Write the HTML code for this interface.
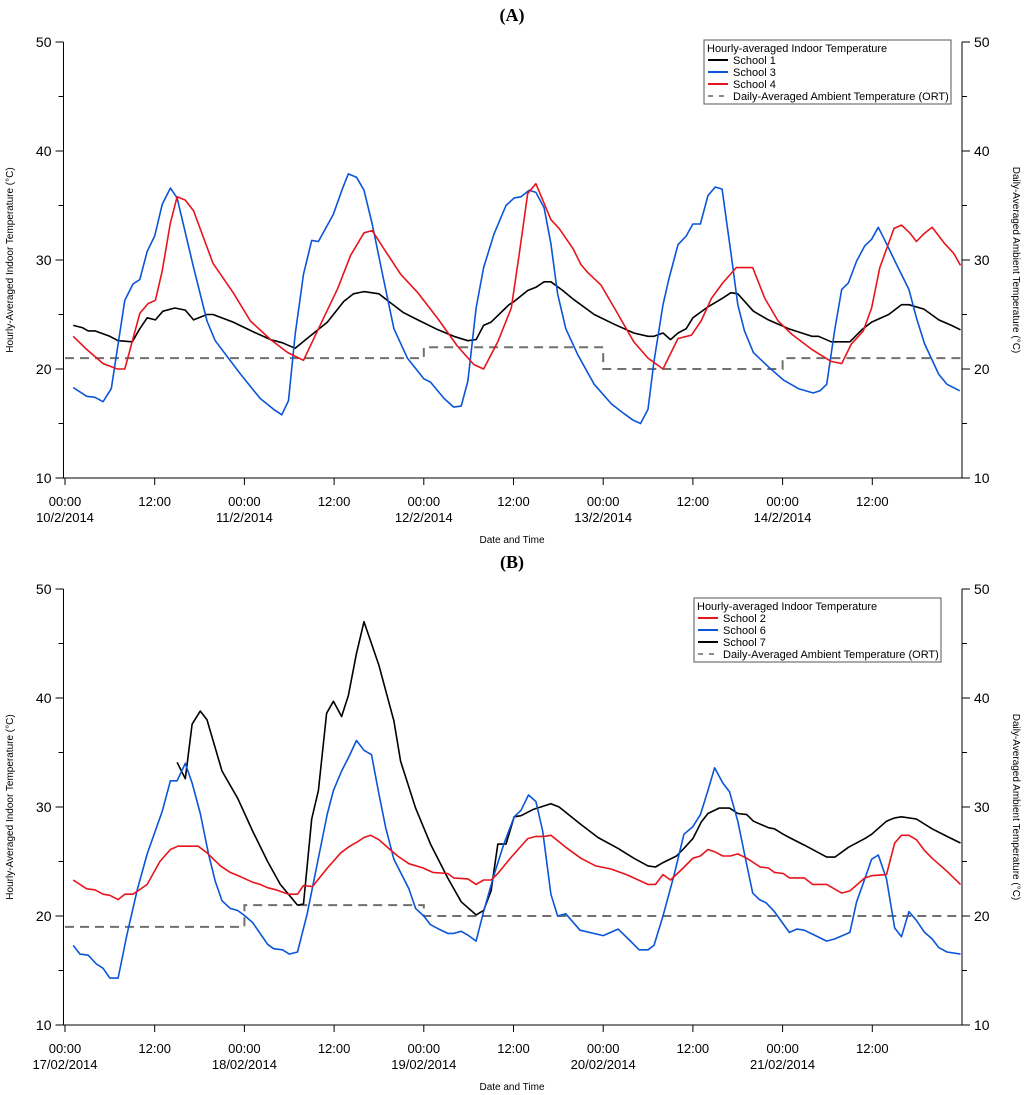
<!DOCTYPE html>
<html><head><meta charset="utf-8"><style>
html,body{margin:0;padding:0;background:#fff;}
svg{display:block;font-family:"Liberation Sans",Arial,sans-serif;}
</style></head><body>
<svg id="chart" width="1024" height="1095" viewBox="0 0 1024 1095" xmlns="http://www.w3.org/2000/svg"></svg>
<script>
// ---------- Panel A data ----------
const dayLabelsA = ["10/2/2014","11/2/2014","12/2/2014","13/2/2014","14/2/2014"];
const ortA = [21,21,22,20,21];
const s1HoursA = [1.1,2.3,3.1,4,6,7.1,9,10,11,12.1,13.1,14.7,16.1,17.2,19,19.8,22.5,25.2,27.5,29.1,30.8,32.2,35.1,37.3,38.6,40,42,43.3,45.2,47.2,49.9,52,53.9,55,56,57,59.4,60.1,61.9,63,64.1,65,66.6,68,70.8,73.5,76.1,78,78.8,80,81,82,83.1,84,86,88,89.1,90,92.1,94.1,96.8,99.9,100.8,102.5,105,106.6,107.9,110.2,111.9,112.9,114.9,116.9,118.6,119.8];
const s1TempsA = [24,23.8,23.5,23.5,23,22.6,22.5,23.7,24.7,24.5,25.3,25.6,25.4,24.5,25,25,24.3,23.4,22.7,22.4,21.9,22.7,24.3,26.2,26.9,27.1,26.9,26.2,25.2,24.5,23.6,23,22.6,22.7,24,24.3,25.9,26.2,27.2,27.5,28,28,27.2,26.4,25,24.1,23.3,23,23,23.3,22.7,23.3,23.7,24.7,25.7,26.5,27,26.9,25.3,24.5,23.7,23,23,22.5,22.5,23.6,24.3,25,25.9,25.9,25.5,24.5,24,23.6];
const s3HoursA = [1.1,2.9,4,5.1,6.2,8,9.1,10,11,12,13,14.1,15,17.2,19,20.1,23.5,26.1,27.9,29,29.9,30.8,31.9,33,33.9,35.9,37.1,37.9,39,40,41.1,42.6,44,45.8,48,48.9,50.7,52,53,53.9,55,56,57.4,59,60.1,61,62.1,63,64.1,65,65.9,67,68.6,70.8,73.1,74.8,76,77,78,78.8,80,80.8,82,83.1,84,85,86,87,87.9,89.1,90,90.9,92.1,94.1,96.1,98.1,100.1,101,101.9,103,103.9,104.8,105.9,107,107.9,108.8,109.9,111.3,112.9,113.9,115,116.9,118,119.7];
const s3TempsA = [18.3,17.5,17.4,17,18.2,26.3,27.8,28.2,30.8,32.2,35.1,36.6,35.7,29.3,24.4,22.6,19.5,17.3,16.3,15.8,17.1,23.2,28.7,31.8,31.7,34.2,36.5,37.9,37.6,36.4,33.3,28.3,23.7,21,19.1,18.8,17.3,16.5,16.6,18.9,25.6,29.3,32.4,35,35.7,35.8,36.4,36.2,34.8,31.5,26.9,23.7,21.3,18.6,16.8,15.9,15.3,15,16.3,20.7,25.9,28.3,31.4,32.2,33.3,33.3,35.9,36.7,36.5,30.6,25.9,23.5,21.5,20.2,19,18.2,17.8,18,18.6,23.7,27.3,27.9,29.9,31.3,31.9,33,31.5,29.5,27.3,24.7,22.3,19.5,18.6,18];
const s4HoursA = [1.1,2.9,5.1,7,8,10,11.1,12.1,13,14.1,15,16.1,17.2,19.8,22.5,24.8,27.5,29.8,31.9,34.2,36.5,38.2,40,41.1,42.6,44.9,47.2,49.9,52.5,54.7,56,57.9,59.7,60.7,61.9,63,64.1,65,66.1,68,69,70,71.7,73.5,76.1,78,80,82,83.8,85.1,86.5,88,89.8,92,93.6,95.4,97.2,99.9,102.5,103.9,105.2,106.8,107.9,109,110.9,111.9,113,113.9,114.9,116,117.7,118.9,119.8];
const s4TempsA = [23,21.8,20.5,20,20,25.1,26,26.3,29,33.4,35.8,35.5,34.5,29.7,27,24.4,22.7,21.5,20.8,24.1,27.4,30.4,32.5,32.7,31.1,28.7,27,24.6,22.1,20.4,20,22.5,25.6,30.2,36.1,37,35.2,33.7,32.9,31,29.6,28.8,27.7,25.6,22.5,21,20,22.8,23.1,24.4,26.5,27.9,29.3,29.3,26.5,24.4,23.2,21.8,20.7,20.5,22.3,23.5,25.6,29.3,32.9,33.2,32.5,31.7,32.4,33,31.5,30.6,29.5];
// ---------- Panel B data ----------
const dayLabelsB = ["17/02/2014","18/02/2014","19/02/2014","20/02/2014","21/02/2014"];
const ortB = [19,21,20,20,20];
const s2HoursB = [1.1,2.9,4,5.1,6,7.1,8,9.1,11,12.7,14.1,15.1,17.8,19,20.8,22.1,23.5,25.1,26.1,27.1,28.2,29.9,31.1,31.9,33.1,35.1,36.9,38.1,39.1,40,40.9,42,43.3,44.5,46,47.9,49.2,51.2,52,53.9,55,56,57,57.9,59.7,61.9,63,64.1,65,67,69,71,73.1,75.1,76.1,78,79,80,81,82.7,84,85,86,86.9,88,89,90,91.2,93,94.1,94.9,96.1,96.9,98.9,100,101.9,103.9,105,107,107.9,109.9,111,111.9,112.9,113.9,115,116,118,119.8];
const s2TempsB = [23.3,22.5,22.4,22,21.9,21.5,22,22,22.9,25,26.1,26.4,26.4,25.8,24.6,24,23.6,23.1,22.9,22.6,22.4,22,22,22.8,22.7,24.4,25.8,26.4,26.8,27.2,27.4,27,26.2,25.5,24.8,24.4,24,23.9,23.5,23.4,22.9,23.3,23.3,23.9,25.4,27.1,27.3,27.3,27.4,26.3,25.3,24.6,24.3,23.8,23.5,22.9,22.9,23.8,23.3,24.4,25.3,25.5,26.1,25.9,25.5,25.5,25.7,25.3,24.5,24.4,24,23.9,23.5,23.5,22.9,22.9,22.1,22.3,23.5,23.7,23.8,26.7,27.4,27.4,27,26,25.3,24.1,22.9];
const s6HoursB = [1.1,2,3.1,4.2,5.1,6,7.1,8.3,9.7,11,13,14.1,15,16.1,17,18.1,19.2,20.1,21,22.1,23.1,23.9,25.1,27.1,27.9,29.1,30,31.1,32.4,33.8,35.1,35.9,37,37.9,39,40,41,42,42.9,44,46,46.9,48,48.9,50,51.2,52,53,54,55,56,57.4,58.7,60.1,61,62,63,63.9,65,65.9,67,68.9,72,74,75.5,76.8,78,78.8,80,81.5,82.8,84,85,86,86.9,88,88.9,90,90.9,92,92.9,93.8,94.9,96.9,97.9,98.9,100.1,101.9,103,105,105.9,107,107.9,108.8,109.9,111,111.9,112.9,113.9,115,116,116.9,118,119.8];
const s6TempsB = [17.3,16.5,16.4,15.6,15.2,14.3,14.3,18.3,22.5,25.7,29.6,32.4,32.4,34,32.2,29.4,25.7,23.2,21.4,20.7,20.5,20.1,19.4,17.4,17,16.9,16.5,16.7,20.2,25,29.4,31.5,33.3,34.5,36.1,35.2,34.8,31.2,28.1,25.2,22.5,20.7,20,19.2,18.8,18.4,18.4,18.6,18.2,17.7,20.4,23.8,26.6,29.1,29.7,31.1,30.5,27.8,22,20,20.2,18.7,18.2,18.8,17.8,16.9,16.9,17.3,20,23.8,27.5,28.2,29.3,31.5,33.6,32.2,31.4,28.7,25.7,22.1,21.5,21.2,20.4,18.5,18.8,18.7,18.3,17.7,17.9,18.5,21.3,23.4,25.2,25.6,23.4,18.9,18.1,20.4,19.6,18.5,17.9,17.1,16.7,16.5];
const s7HoursB = [15,16.1,17,18.1,19,21,23.1,25.1,27.1,28.8,31.1,31.9,33,33.9,35,35.9,37,37.9,39,40,42,44,44.9,46.9,48.9,51.2,53,55,56,57,57.9,59,60.1,61,62.7,65,66.1,69,71.3,74,76.1,78,79,80,81.8,82.8,84,85.1,86,87.5,88.9,90,91.2,92.1,94.1,94.9,96.1,96.9,98.9,101.9,103,104.8,107,107.9,109.9,111,111.9,113.9,116,118,119.8];
const s7TempsB = [34.1,32.6,37.6,38.8,38,33.3,30.8,27.8,25,22.9,21,21.1,28.9,31.5,38.6,39.7,38.3,40.2,44.1,47,43,37.9,34.2,29.9,26.6,23.5,21.3,20.1,20.5,22.3,26.6,26.6,29.1,29.2,29.8,30.3,30,28.4,27.2,26.2,25.3,24.6,24.5,24.9,25.5,26.2,27.1,28.6,29.4,29.9,29.9,29.4,29.3,28.7,28.1,28,27.5,27.2,26.5,25.4,25.4,26.3,27.1,27.5,28.7,29,29.1,28.9,28,27.3,26.7];
const yTicks = [10,20,30,40,50];
const xTickHours = [0,12,24,36,48,60,72,84,96,108];

const NS = "http://www.w3.org/2000/svg";
const svg = document.getElementById("chart");
function mk(tag, attrs, parent){ const e=document.createElementNS(NS,tag); for(const k in attrs) e.setAttribute(k,attrs[k]); (parent||svg).appendChild(e); return e; }

function panel(cfg){
  const g = mk("g",{});
  
  
  const L=63.5, R=962, T=cfg.top, B=cfg.bottom;
  const x = h => 65 + h*(R-65)/120;
  const y = v => B - (v-10)*(B-T)/40;
  const t = mk("text",{x:512,y:cfg.titleY,"text-anchor":"middle","font-family":"Liberation Serif,serif","font-size":18,"font-weight":"bold",fill:"#000"},g);
  t.textContent = cfg.title;
  
  
  const ax = mk("path",{d:`M${L} ${T}V${B}H${R}V${T}`,fill:"none",stroke:"#000","stroke-width":1},g);
  
  
  for(let v=10; v<=50; v+=5){
    const major = v%10===0; const len = major?8:5;
    mk("line",{x1:L-len,x2:L,y1:y(v),y2:y(v),stroke:"#000"},g);
    mk("line",{x1:R,x2:R+len,y1:y(v),y2:y(v),stroke:"#000"},g);
  }
  yTicks.forEach(v=>{
    const a = mk("text",{x:L-12,y:y(v)+5,"text-anchor":"end","font-size":14,fill:"#000"},g); a.textContent=v;
    
    
    const b = mk("text",{x:R+12,y:y(v)+5,"text-anchor":"start","font-size":14,fill:"#000"},g); b.textContent=v;
    
    
  });
  xTickHours.forEach((h,i)=>{
    mk("line",{x1:x(h),x2:x(h),y1:B,y2:B+7,stroke:"#000"},g);
    const tl = mk("text",{x:x(h),y:B+28,"text-anchor":"middle","font-size":13,fill:"#000"},g);
    tl.textContent = h%24===0 ? "00:00" : "12:00";
    
    
    if(h%24===0){
      const dl = mk("text",{x:x(h),y:B+44,"text-anchor":"middle","font-size":13,fill:"#000"},g);
      dl.textContent = cfg.days[h/24];
      
      
    }
  });
  const xt = mk("text",{x:512,y:B+65,"text-anchor":"middle","font-size":10,fill:"#000"},g); xt.textContent="Date and Time";
  
  
  const cy=(T+B)/2;
  const yl = mk("text",{x:0,y:0,transform:`translate(13,${cy}) rotate(-90)`,"text-anchor":"middle","font-size":10,fill:"#000"},g);
  yl.textContent="Hourly-Averaged Indoor Temperature (°C)";
  
  
  const yr = mk("text",{x:0,y:0,transform:`translate(1013,${cy}) rotate(90)`,"text-anchor":"middle","font-size":10,fill:"#000"},g);
  yr.textContent="Daily-Averaged Ambient Temperature (°C)";
  
  
  let d="";
  cfg.ort.forEach((v,i)=>{ d += (i===0?`M${x(0)} ${y(v)}`:`V${y(v)}`) + `H${x((i+1)*24)}`; });
  const o = mk("path",{d:d,fill:"none",stroke:"#707070","stroke-width":2,"stroke-dasharray":"9,6"},g);
  
  
  cfg.series.forEach(s=>{
    const pts = s.h.map((h,i)=>x(h).toFixed(1)+","+y(s.v[i]).toFixed(1)).join(" ");
    const p = mk("polyline",{points:pts,fill:"none",stroke:s.color,"stroke-width":1.6,"stroke-linejoin":"round"},g);
    
    
  });
  const lg = mk("g",{},g);
  
  
  const lx=cfg.legX, ly=cfg.legY;
  mk("rect",{x:lx,y:ly,width:247,height:64,fill:"#fff",stroke:"#555","stroke-width":1},lg);
  const hd = mk("text",{x:lx+3,y:ly+12,"font-size":11,fill:"#000"},lg); hd.textContent="Hourly-averaged Indoor Temperature";
  
  
  cfg.legend.forEach((e,i)=>{
    const yy = ly+24+i*12;
    mk("line",{x1:lx+4,x2:lx+24,y1:yy-4,y2:yy-4,stroke:e.color,"stroke-width":e.dash?1.6:2,"stroke-dasharray":e.dash?"5,6":"none"},lg);
    const tx = mk("text",{x:lx+29,y:yy,"font-size":11,fill:"#000"},lg); tx.textContent=e.label;
    
    
  });
}

panel({name:"panel-a",title:"(A)",titleY:21,top:42,bottom:478,days:dayLabelsA,ort:ortA,legX:704,legY:40,
  series:[{name:"school-1-line",h:s1HoursA,v:s1TempsA,color:"#000"},{name:"school-3-line",h:s3HoursA,v:s3TempsA,color:"#0a55d8"},{name:"school-4-line",h:s4HoursA,v:s4TempsA,color:"#e8141c"}],
  legend:[{label:"School 1",color:"#000"},{label:"School 3",color:"#0a55d8"},{label:"School 4",color:"#e8141c"},{label:"Daily-Averaged Ambient Temperature (ORT)",color:"#666",dash:true}]});
panel({name:"panel-b",title:"(B)",titleY:568,top:589,bottom:1025,days:dayLabelsB,ort:ortB,legX:694,legY:598,
  series:[{name:"school-7-line",h:s7HoursB,v:s7TempsB,color:"#000"},{name:"school-6-line",h:s6HoursB,v:s6TempsB,color:"#0a55d8"},{name:"school-2-line",h:s2HoursB,v:s2TempsB,color:"#e8141c"}],
  legend:[{label:"School 2",color:"#e8141c"},{label:"School 6",color:"#0a55d8"},{label:"School 7",color:"#000"},{label:"Daily-Averaged Ambient Temperature (ORT)",color:"#666",dash:true}]});
</script>
</body></html>
